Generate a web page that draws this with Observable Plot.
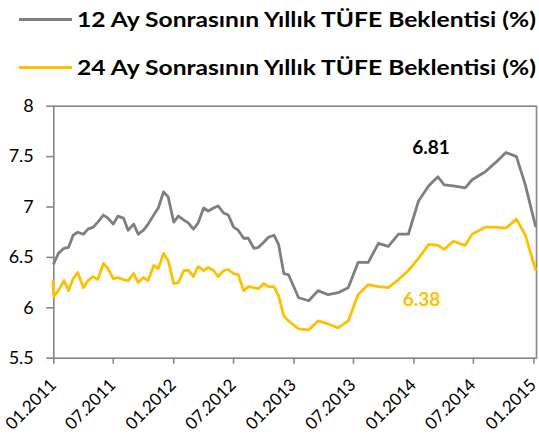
<!DOCTYPE html>
<html><head><meta charset="utf-8">
<script src="https://cdn.jsdelivr.net/npm/d3@7"></script>
<script src="https://cdn.jsdelivr.net/npm/@observablehq/plot@0.6"></script>
<style>
body{margin:0;background:#fff;font-family:Lato,"Open Sans",sans-serif}
#legend text{font-family:Lato,"Open Sans",sans-serif;font-weight:700}
</style>
</head><body>
<div id="chart"></div>
<script>
const seriesNames = ["12 Ay Sonrasının Yıllık TÜFE Beklentisi (%)", "24 Ay Sonrasının Yıllık TÜFE Beklentisi (%)"];
const seriesColors = ["#7f7f7f", "#ffc000"];

const dates = [
  "2011-01-01","2011-01-15","2011-02-01","2011-02-15","2011-03-01","2011-03-15","2011-04-01","2011-04-15",
  "2011-05-01","2011-05-15","2011-06-01","2011-06-15","2011-07-01","2011-07-15","2011-08-01","2011-08-15",
  "2011-09-01","2011-09-15","2011-10-01","2011-10-15","2011-11-01","2011-11-15","2011-12-01","2011-12-15",
  "2012-01-01","2012-01-15","2012-02-01","2012-02-15","2012-03-01","2012-03-15","2012-04-01","2012-04-15",
  "2012-05-01","2012-05-15","2012-06-01","2012-06-15","2012-07-01","2012-07-15","2012-08-01","2012-08-15",
  "2012-09-01","2012-09-15","2012-10-01","2012-10-15","2012-11-01","2012-11-15","2012-12-01","2012-12-15",
  "2013-01-15","2013-02-15","2013-03-15","2013-04-15","2013-05-15","2013-06-15","2013-07-15","2013-08-15",
  "2013-09-15","2013-10-15","2013-11-15","2013-12-15","2014-01-15","2014-02-15","2014-03-15",
  "2014-04-03","2014-05-01","2014-06-06","2014-06-27","2014-08-06","2014-09-06","2014-10-08","2014-11-09",
  "2014-12-06","2015-01-06"
];

const expect12 = [
  6.44,6.54,6.59,6.60,6.72,6.75,6.73,6.78,6.80,6.85,
  6.92,6.89,6.83,6.91,6.89,6.77,6.83,6.73,6.77,6.83,
  6.92,6.99,7.15,7.10,6.85,6.91,6.87,6.84,6.78,6.84,
  6.99,6.96,6.99,7.01,6.94,6.92,6.80,6.77,6.69,6.69,
  6.59,6.60,6.65,6.70,6.72,6.63,6.34,6.33,
  6.10,6.07,6.17,6.13,6.15,6.20,6.45,6.45,6.64,6.61,6.73,6.73,7.06,7.21,7.30,
  7.22,7.21,7.19,7.27,7.35,7.44,7.54,7.50,7.22,6.81
];

const expect24 = [
  6.11,6.17,6.27,6.17,6.29,6.35,6.20,6.27,6.31,6.28,
  6.44,6.39,6.29,6.30,6.28,6.27,6.34,6.25,6.30,6.27,
  6.42,6.39,6.54,6.47,6.24,6.25,6.37,6.37,6.31,6.41,
  6.37,6.40,6.37,6.31,6.37,6.38,6.34,6.33,6.17,6.21,
  6.20,6.19,6.24,6.21,6.21,6.12,5.92,5.87,
  5.79,5.78,5.87,5.84,5.80,5.87,6.13,6.23,6.21,6.20,6.28,6.37,6.49,6.63,6.62,
  6.58,6.66,6.62,6.73,6.80,6.80,6.79,6.88,6.72,6.38
];
// first reading of the 24-month series, drawn just left of the axis
const expect24LeadDate = "2010-12-29";
const expect24LeadValue = 6.26;

const yTicks = [5.5, 6, 6.5, 7, 7.5, 8];
const xTickDates = ["2011-01-01","2011-07-01","2012-01-01","2012-07-01","2013-01-01","2013-07-01","2014-01-01","2014-07-01","2015-01-01"];
const xTickLabels = ["01.2011","07.2011","01.2012","07.2012","01.2013","07.2013","01.2014","07.2014","01.2015"];
const xDomain = ["2011-01-01", "2015-01-09"];

const labelTexts = ["6.81", "6.38"];
const labelDates = ["2014-02-22", "2014-01-24"];
const labelValues = [7.59, 6.08];
const labelColors = ["#000000", "#ffc000"];

const parse = s => new Date(s + "T00:00:00Z");
const s12 = dates.map((d, i) => ({date: parse(d), value: expect12[i]}));
const s24 = [{date: parse(expect24LeadDate), value: expect24LeadValue}]
  .concat(dates.map((d, i) => ({date: parse(d), value: expect24[i]})));
const labels = labelTexts.map((t, i) => ({text: t, date: parse(labelDates[i]), value: labelValues[i], color: labelColors[i]}));
const xTicks = xTickDates.map((d, i) => ({date: parse(d), label: xTickLabels[i]}));

// legend
const W = 539, legendH = 92;
const ns = "http://www.w3.org/2000/svg";
const leg = document.createElementNS(ns, "svg");
leg.setAttribute("id", "legend");
leg.setAttribute("width", W); leg.setAttribute("height", legendH);
leg.style.display = "block";
const rowY = [19.5, 67.5];
seriesNames.forEach((name, i) => {
  const ln = document.createElementNS(ns, "line");
  ln.setAttribute("x1", 19); ln.setAttribute("x2", 72);
  ln.setAttribute("y1", rowY[i]); ln.setAttribute("y2", rowY[i]);
  ln.setAttribute("stroke", seriesColors[i]); ln.setAttribute("stroke-width", 3);
  leg.appendChild(ln);
  const tx = document.createElementNS(ns, "text");
  tx.setAttribute("x", 77); tx.setAttribute("y", rowY[i] + 7.5);
  tx.setAttribute("font-size", 21);
  tx.setAttribute("fill", "#000");
  tx.setAttribute("textLength", 459);
  tx.setAttribute("lengthAdjust", "spacingAndGlyphs");
  tx.textContent = name;
  leg.appendChild(tx);
});
document.getElementById("chart").appendChild(leg);

const axisColor = "#868686";
const chart = Plot.plot({
  width: W,
  height: 441 - legendH,
  marginTop: 13.7,
  marginBottom: 83.3,
  marginLeft: 53.3,
  marginRight: 3,
  style: {fontFamily: "Lato, 'Open Sans', sans-serif", background: "#fff", overflow: "visible"},
  x: {type: "utc", domain: xDomain.map(parse)},
  y: {domain: [5.5, 8]},
  marks: [
    Plot.frame({stroke: axisColor, strokeWidth: 1.6}),
    Plot.axisY({ticks: yTicks, tickFormat: d => String(d), tickSize: 7, tickPadding: 13, fontSize: 18, stroke: axisColor, strokeWidth: 1.6, fill: "#000", label: null}),
    Plot.axisX({ticks: xTicks.map(d => d.date), tickFormat: () => "", tickSize: 6, stroke: axisColor, strokeWidth: 1.6, label: null}),
    Plot.text(xTicks, {x: "date", frameAnchor: "bottom", text: "label", rotate: -45, textAnchor: "end", lineAnchor: "middle", dx: -0.5, dy: 24, fontSize: 17, fill: "#000"}),
    Plot.line(s12, {x: "date", y: "value", stroke: seriesColors[0], strokeWidth: 2.8, strokeLinejoin: "round"}),
    Plot.line(s24, {x: "date", y: "value", stroke: seriesColors[1], strokeWidth: 2.8, strokeLinejoin: "round"}),
    Plot.text(labels, {x: "date", y: "value", text: "text", fill: "color", fontSize: 19, fontWeight: "bold", textAnchor: "middle"})
  ]
});
chart.style.display = "block";
document.getElementById("chart").appendChild(chart);
</script>
</body></html>
